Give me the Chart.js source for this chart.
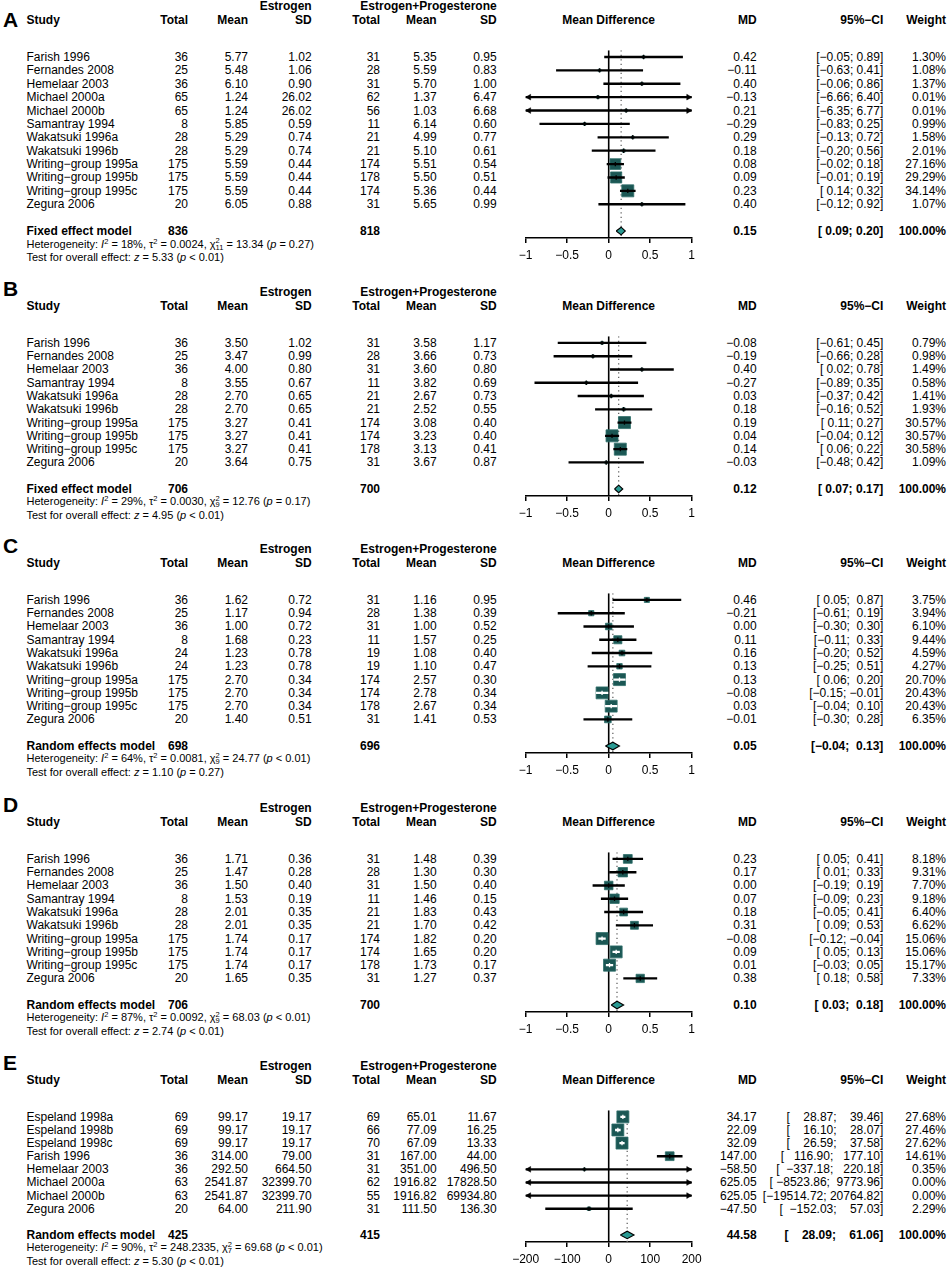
<!DOCTYPE html>
<html>
<head>
<meta charset="utf-8">
<script src="https://cdn.jsdelivr.net/npm/chart.js@4.4.1/dist/chart.umd.min.js"></script>
<style>
html, body { margin: 0; padding: 0; background: #fff; }
#page { position: relative; width: 948px; height: 1269px; overflow: hidden; font-family: "Liberation Sans", Arial, sans-serif; color: #000; }
.t { position: absolute; white-space: pre; font-size: 12px; line-height: 14px; transform: translateY(-50%); }
.b { font-weight: bold; }
.sm { font-size: 11px; line-height: 13px; }
.lt { font-size: 21px; line-height: 22px; font-weight: bold; }
sup { font-size: 7.5px; line-height: 0; vertical-align: 4px; }
.ss { display: inline-block; vertical-align: -2px; font-size: 7.5px; line-height: 6.5px; }
.ss span { display: block; }
canvas { position: absolute; }
</style>
</head>
<body>
<div id="page"></div>
<script>
// ---- A ----
const studiesA = ['Farish 1996', 'Fernandes 2008', 'Hemelaar 2003', 'Michael 2000a', 'Michael 2000b', 'Samantray 1994',
  'Wakatsuki 1996a', 'Wakatsuki 1996b', 'Writing\u2212group 1995a', 'Writing\u2212group 1995b', 'Writing\u2212group 1995c', 'Zegura 2006'];
const totalEstA = [36, 25, 36, 65, 65, 8, 28, 28, 175, 175, 175, 20];
const meanEstA = [5.77, 5.48, 6.10, 1.24, 1.24, 5.85, 5.29, 5.29, 5.59, 5.59, 5.59, 6.05];
const sdEstA = [1.02, 1.06, 0.90, 26.02, 26.02, 0.59, 0.74, 0.74, 0.44, 0.44, 0.44, 0.88];
const totalEpA = [31, 28, 31, 62, 56, 11, 21, 21, 174, 178, 174, 31];
const meanEpA = [5.35, 5.59, 5.70, 1.37, 1.03, 6.14, 4.99, 5.10, 5.51, 5.50, 5.36, 5.65];
const sdEpA = [0.95, 0.83, 1.00, 6.47, 6.68, 0.60, 0.77, 0.61, 0.54, 0.51, 0.44, 0.99];
const mdA = [0.42, -0.11, 0.40, -0.13, 0.21, -0.29, 0.29, 0.18, 0.08, 0.09, 0.23, 0.40];
const lowerA = [-0.05, -0.63, -0.06, -6.66, -6.35, -0.83, -0.13, -0.20, -0.02, -0.01, 0.14, -0.12];
const upperA = [0.89, 0.41, 0.86, 6.40, 6.77, 0.25, 0.72, 0.56, 0.18, 0.19, 0.32, 0.92];
const weightA = [1.30, 1.08, 1.37, 0.01, 0.01, 0.99, 1.58, 2.01, 27.16, 29.29, 34.14, 1.07];

// ---- B ----
const studiesB = ['Farish 1996', 'Fernandes 2008', 'Hemelaar 2003', 'Samantray 1994', 'Wakatsuki 1996a', 'Wakatsuki 1996b',
  'Writing\u2212group 1995a', 'Writing\u2212group 1995b', 'Writing\u2212group 1995c', 'Zegura 2006'];
const totalEstB = [36, 25, 36, 8, 28, 28, 175, 175, 175, 20];
const meanEstB = [3.50, 3.47, 4.00, 3.55, 2.70, 2.70, 3.27, 3.27, 3.27, 3.64];
const sdEstB = [1.02, 0.99, 0.80, 0.67, 0.65, 0.65, 0.41, 0.41, 0.41, 0.75];
const totalEpB = [31, 28, 31, 11, 21, 21, 174, 174, 178, 31];
const meanEpB = [3.58, 3.66, 3.60, 3.82, 2.67, 2.52, 3.08, 3.23, 3.13, 3.67];
const sdEpB = [1.17, 0.73, 0.80, 0.69, 0.73, 0.55, 0.40, 0.40, 0.41, 0.87];
const mdB = [-0.08, -0.19, 0.40, -0.27, 0.03, 0.18, 0.19, 0.04, 0.14, -0.03];
const lowerB = [-0.61, -0.66, 0.02, -0.89, -0.37, -0.16, 0.11, -0.04, 0.06, -0.48];
const upperB = [0.45, 0.28, 0.78, 0.35, 0.42, 0.52, 0.27, 0.12, 0.22, 0.42];
const weightB = [0.79, 0.98, 1.49, 0.58, 1.41, 1.93, 30.57, 30.57, 30.58, 1.09];

// ---- C ----
const studiesC = studiesB.slice();
const totalEstC = [36, 25, 36, 8, 24, 24, 175, 175, 175, 20];
const meanEstC = [1.62, 1.17, 1.00, 1.68, 1.23, 1.23, 2.70, 2.70, 2.70, 1.40];
const sdEstC = [0.72, 0.94, 0.72, 0.23, 0.78, 0.78, 0.34, 0.34, 0.34, 0.51];
const totalEpC = [31, 28, 31, 11, 19, 19, 174, 174, 178, 31];
const meanEpC = [1.16, 1.38, 1.00, 1.57, 1.08, 1.10, 2.57, 2.78, 2.67, 1.41];
const sdEpC = [0.95, 0.39, 0.52, 0.25, 0.40, 0.47, 0.30, 0.34, 0.34, 0.53];
const mdC = [0.46, -0.21, 0.00, 0.11, 0.16, 0.13, 0.13, -0.08, 0.03, -0.01];
const lowerC = [0.05, -0.61, -0.30, -0.11, -0.20, -0.25, 0.06, -0.15, -0.04, -0.30];
const upperC = [0.87, 0.19, 0.30, 0.33, 0.52, 0.51, 0.20, -0.01, 0.10, 0.28];
const weightC = [3.75, 3.94, 6.10, 9.44, 4.59, 4.27, 20.70, 20.43, 20.43, 6.35];

// ---- D ----
const studiesD = studiesB.slice();
const totalEstD = [36, 25, 36, 8, 28, 28, 175, 175, 175, 20];
const meanEstD = [1.71, 1.47, 1.50, 1.53, 2.01, 2.01, 1.74, 1.74, 1.74, 1.65];
const sdEstD = [0.36, 0.28, 0.40, 0.19, 0.35, 0.35, 0.17, 0.17, 0.17, 0.35];
const totalEpD = [31, 28, 31, 11, 21, 21, 174, 174, 178, 31];
const meanEpD = [1.48, 1.30, 1.50, 1.46, 1.83, 1.70, 1.82, 1.65, 1.73, 1.27];
const sdEpD = [0.39, 0.30, 0.40, 0.15, 0.43, 0.42, 0.20, 0.20, 0.17, 0.37];
const mdD = [0.23, 0.17, 0.00, 0.07, 0.18, 0.31, -0.08, 0.09, 0.01, 0.38];
const lowerD = [0.05, 0.01, -0.19, -0.09, -0.05, 0.09, -0.12, 0.05, -0.03, 0.18];
const upperD = [0.41, 0.33, 0.19, 0.23, 0.41, 0.53, -0.04, 0.13, 0.05, 0.58];
const weightD = [8.18, 9.31, 7.70, 9.18, 6.40, 6.62, 15.06, 15.06, 15.17, 7.33];

// ---- E ----
const studiesE = ['Espeland 1998a', 'Espeland 1998b', 'Espeland 1998c', 'Farish 1996', 'Hemelaar 2003',
  'Michael 2000a', 'Michael 2000b', 'Zegura 2006'];
const totalEstE = [69, 69, 69, 36, 36, 63, 63, 20];
const meanEstE = [99.17, 99.17, 99.17, 314.00, 292.50, 2541.87, 2541.87, 64.00];
const sdEstE = [19.17, 19.17, 19.17, 79.00, 664.50, 32399.70, 32399.70, 211.90];
const totalEpE = [69, 66, 70, 31, 31, 62, 55, 31];
const meanEpE = [65.01, 77.09, 67.09, 167.00, 351.00, 1916.82, 1916.82, 111.50];
const sdEpE = [11.67, 16.25, 13.33, 44.00, 496.50, 17828.50, 69934.80, 136.30];
const mdE = [34.17, 22.09, 32.09, 147.00, -58.50, 625.05, 625.05, -47.50];
const lowerE = [28.87, 16.10, 26.59, 116.90, -337.18, -8523.86, -19514.72, -152.03];
const upperE = [39.46, 28.07, 37.58, 177.10, 220.18, 9773.96, 20764.82, 57.03];
const weightE = [27.68, 27.46, 27.62, 14.61, 0.35, 0.00, 0.00, 2.29];

// pooled results, one entry per panel A..E
const modelName = ['Fixed effect model', 'Fixed effect model', 'Random effects model', 'Random effects model', 'Random effects model'];
const pooledTotalEst = [836, 706, 698, 706, 425];
const pooledTotalEp = [818, 700, 696, 700, 415];
const pooledMd = [0.15, 0.12, 0.05, 0.10, 44.58];
const pooledLower = [0.09, 0.07, -0.04, 0.03, 28.09];
const pooledUpper = [0.20, 0.17, 0.13, 0.18, 61.06];
const hetI2 = ['18%', '29%', '64%', '87%', '90%'];
const hetTau2 = ['0.0024', '0.0030', '0.0081', '0.0092', '248.2335'];
const hetDf = ['11', '9', '9', '9', '7'];
const hetChi2 = ['13.34', '12.76', '24.77', '68.03', '69.68'];
const hetP = ['= 0.27', '= 0.17', '< 0.01', '< 0.01', '< 0.01'];
const testZ = ['5.33', '4.95', '1.10', '2.74', '5.30'];
const testP = ['< 0.01', '< 0.01', '= 0.27', '< 0.01', '< 0.01'];

// x-axis ticks
const ticksSmall = [-1, -0.5, 0, 0.5, 1];
const ticksLarge = [-200, -100, 0, 100, 200];

const panels = [
  { study: studiesA, nE: totalEstA, mE: meanEstA, sE: sdEstA, nC: totalEpA, mC: meanEpA, sC: sdEpA, md: mdA, lo: lowerA, hi: upperA, w: weightA, ticks: ticksSmall },
  { study: studiesB, nE: totalEstB, mE: meanEstB, sE: sdEstB, nC: totalEpB, mC: meanEpB, sC: sdEpB, md: mdB, lo: lowerB, hi: upperB, w: weightB, ticks: ticksSmall },
  { study: studiesC, nE: totalEstC, mE: meanEstC, sE: sdEstC, nC: totalEpC, mC: meanEpC, sC: sdEpC, md: mdC, lo: lowerC, hi: upperC, w: weightC, ticks: ticksSmall },
  { study: studiesD, nE: totalEstD, mE: meanEstD, sE: sdEstD, nC: totalEpD, mC: meanEpD, sC: sdEpD, md: mdD, lo: lowerD, hi: upperD, w: weightD, ticks: ticksSmall },
  { study: studiesE, nE: totalEstE, mE: meanEstE, sE: sdEstE, nC: totalEpE, mC: meanEpE, sC: sdEpE, md: mdE, lo: lowerE, hi: upperE, w: weightE, ticks: ticksLarge }
];

// layout
const W = 948;
const page = document.getElementById('page');
Chart.defaults.font.family = '"Liberation Sans", Arial, sans-serif';
Chart.defaults.color = '#000';

const PLOT_L = 525.7, PLOT_R = 691.7;
const CANVAS_L = 505;
const CANVAS_W = 207;
const ROW = 14.05;
const AXIS_H = 26;
const headerY = [20, 305.5, 563, 821.5, 1080];
const letters = ['A', 'B', 'C', 'D', 'E'];
const col = { study: 26.5, nE: 188, mE: 248, sE: 311.7, nC: 380, mC: 436.7, sC: 496.7, md: 756.7, ci: 883.3, w: 946 };

const minus = v => (v < 0 ? '\u2212' : '') + Math.abs(v).toFixed(2);
const esc = s => s.replace(/</g, '&lt;');

function put(x, y, html, cls, align) {
  const d = document.createElement('div');
  d.className = 't ' + (cls || '');
  d.innerHTML = html;
  d.style.top = y + 'px';
  if (align === 'r') {
    d.style.right = (W - x) + 'px';
  } else if (align === 'c') {
    d.style.left = x + 'px';
    d.style.transform = 'translate(-50%,-50%)';
  } else {
    d.style.left = x + 'px';
  }
  page.appendChild(d);
}

panels.forEach((p, k) => {
  const H = headerY[k];
  const n = p.study.length;
  const xmin = p.ticks[0], xmax = p.ticks[p.ticks.length - 1];
  const pxPerUnit = (PLOT_R - PLOT_L) / (xmax - xmin);

  const top = Math.round(H + 28.3 - 0.5 * ROW);
  const plotH = Math.round((n + 2.04) * ROW);
  const ymax = -0.5 + plotH / ROW;
  const sumRow = n + 1;

  // squares sized by weight, CI drawn white when it fits inside the square
  const wmax = Math.max(...p.w);
  const sides = p.w.map(w => Math.max(12 * Math.sqrt(w / wmax), 2.6));
  const lineCols = p.lo.map((l, i) => ((p.hi[i] - l) * pxPerUnit < sides[i] ? '#fff' : '#000'));

  const arrows = [], arrowRot = [];
  const arrowR = 3.3;
  p.lo.forEach((l, i) => {
    if (l < xmin) { arrows.push({ x: xmin + arrowR / pxPerUnit, y: i }); arrowRot.push(-90); }
    if (p.hi[i] > xmax) { arrows.push({ x: xmax - arrowR / pxPerUnit, y: i }); arrowRot.push(90); }
  });

  const est = pooledMd[k];
  const dh = 4 / ROW;
  const diamond = [
    { x: pooledLower[k], y: sumRow }, { x: est, y: sumRow - dh },
    { x: pooledUpper[k], y: sumRow }, { x: est, y: sumRow + dh },
    { x: pooledLower[k], y: sumRow }
  ];

  const cv = document.createElement('canvas');
  cv.width = CANVAS_W;
  cv.height = plotH + AXIS_H;
  cv.style.width = CANVAS_W + 'px';
  cv.style.height = (plotH + AXIS_H) + 'px';
  cv.style.left = CANVAS_L + 'px';
  cv.style.top = top + 'px';
  page.appendChild(cv);

  const chart = new Chart(cv.getContext('2d'), {
    type: 'scatter',
    data: {
      datasets: [
        { type: 'line', data: [{ x: 0, y: -0.5 }, { x: 0, y: ymax }], borderColor: '#000', borderWidth: 1.6, pointRadius: 0, order: 6 },
        { type: 'line', data: [{ x: est, y: -0.5 }, { x: est, y: ymax }], borderColor: '#666', borderWidth: 1.3, borderDash: [1.3, 3.2], pointRadius: 0, order: 5 },
        { type: 'scatter', data: p.md.map((m, i) => ({ x: m, y: i })), pointStyle: 'rect', pointRadius: sides.map(s => s / Math.SQRT2),
          pointBackgroundColor: '#1b5754', pointBorderColor: '#2f6e6a', pointBorderWidth: 0.8, order: 4 },
        { type: 'bar', indexAxis: 'y', data: p.lo.map((l, i) => ({ x: [l, p.hi[i]], y: i })), barThickness: 1.7,
          backgroundColor: lineCols, borderWidth: 0, order: 3 },
        { type: 'scatter', data: p.md.map((m, i) => ({ x: m, y: i })), pointStyle: 'line', pointRotation: 90, pointRadius: 2.2,
          pointBorderColor: lineCols, pointBorderWidth: 1.3, order: 2 },
        { type: 'line', data: diamond, fill: 'shape', backgroundColor: '#2a9a93', borderColor: '#000', borderWidth: 1.1, pointRadius: 0, order: 1 },
        { type: 'scatter', data: arrows, pointStyle: 'triangle', pointRotation: arrowRot, pointRadius: arrowR,
          pointBackgroundColor: '#000', pointBorderColor: '#000', pointBorderWidth: 0.5, clip: false, order: 0 }
      ]
    },
    options: {
      responsive: false,
      animation: false,
      events: [],
      layout: { padding: { left: PLOT_L - CANVAS_L, right: CANVAS_L + CANVAS_W - PLOT_R, top: 0, bottom: 0 } },
      plugins: { legend: { display: false }, tooltip: { enabled: false } },
      scales: {
        x: {
          type: 'linear', min: xmin, max: xmax, offset: false,
          afterFit: s => { s.height = AXIS_H; },
          border: { display: true, color: '#000', width: 1.5 },
          grid: { display: true, drawOnChartArea: false, drawTicks: true, tickLength: 5, color: '#000', lineWidth: 1.5 },
          ticks: {
            stepSize: p.ticks[1] - p.ticks[0], autoSkip: false, maxRotation: 0, padding: 5, color: '#000',
            font: { size: 12 },
            callback: v => (v < 0 ? '\u2212' : '') + Math.abs(v)
          }
        },
        y: { type: 'linear', display: false, reverse: true, min: -0.5, max: ymax, offset: false }
      }
    }
  });

  const rowY = i => top + chart.scales.y.getPixelForValue(i);

  // headers
  put(3, k === 0 ? H - 0.5 : H - 17, letters[k], 'lt');
  put(col.sE, H - 14, 'Estrogen', 'b', 'r');
  put(col.sC, H - 14, 'Estrogen+Progesterone', 'b', 'r');
  put(col.study, H, 'Study', 'b');
  put(col.nE, H, 'Total', 'b', 'r');
  put(col.mE, H, 'Mean', 'b', 'r');
  put(col.sE, H, 'SD', 'b', 'r');
  put(col.nC, H, 'Total', 'b', 'r');
  put(col.mC, H, 'Mean', 'b', 'r');
  put(col.sC, H, 'SD', 'b', 'r');
  put((PLOT_L + PLOT_R) / 2, H, 'Mean Difference', 'b', 'c');
  put(col.md, H, 'MD', 'b', 'r');
  put(col.ci, H, '95%\u2212CI', 'b', 'r');
  put(col.w, H, 'Weight', 'b', 'r');

  // CI strings padded like the original output
  const loS = p.lo.concat([pooledLower[k]]).map(minus);
  const hiS = p.hi.concat([pooledUpper[k]]).map(minus);
  const wl = Math.max(...loS.map(s => s.length));
  const wh = Math.max(...hiS.map(s => s.length));
  const ci = loS.map((s, i) => '[' + s.padStart(wl, ' ') + '; ' + hiS[i].padStart(wh, ' ') + ']');

  p.study.forEach((s, i) => {
    const y = rowY(i);
    put(col.study, y, s);
    put(col.nE, y, String(p.nE[i]), '', 'r');
    put(col.mE, y, p.mE[i].toFixed(2), '', 'r');
    put(col.sE, y, p.sE[i].toFixed(2), '', 'r');
    put(col.nC, y, String(p.nC[i]), '', 'r');
    put(col.mC, y, p.mC[i].toFixed(2), '', 'r');
    put(col.sC, y, p.sC[i].toFixed(2), '', 'r');
    put(col.md, y, minus(p.md[i]), '', 'r');
    put(col.ci, y, ci[i], '', 'r');
    put(col.w, y, p.w[i].toFixed(2) + '%', '', 'r');
  });

  const ys = rowY(sumRow);
  put(col.study, ys, modelName[k], 'b');
  put(col.nE, ys, String(pooledTotalEst[k]), 'b', 'r');
  put(col.nC, ys, String(pooledTotalEp[k]), 'b', 'r');
  put(col.md, ys, minus(pooledMd[k]), 'b', 'r');
  put(col.ci, ys, ci[n], 'b', 'r');
  put(col.w, ys, '100.00%', 'b', 'r');

  put(col.study, ys + 13.5,
    'Heterogeneity: <i>I</i><sup>2</sup> = ' + hetI2[k] + ', \u03c4<sup>2</sup> = ' + hetTau2[k] +
    ', \u03c7<span class="ss"><span>2</span><span>' + hetDf[k] + '</span></span> = ' + hetChi2[k] +
    ' (<i>p</i> ' + esc(hetP[k]) + ')', 'sm');
  put(col.study, ys + 26, 'Test for overall effect: <i>z</i> = ' + testZ[k] + ' (<i>p</i> ' + esc(testP[k]) + ')', 'sm');
});
</script>
</body>
</html>
